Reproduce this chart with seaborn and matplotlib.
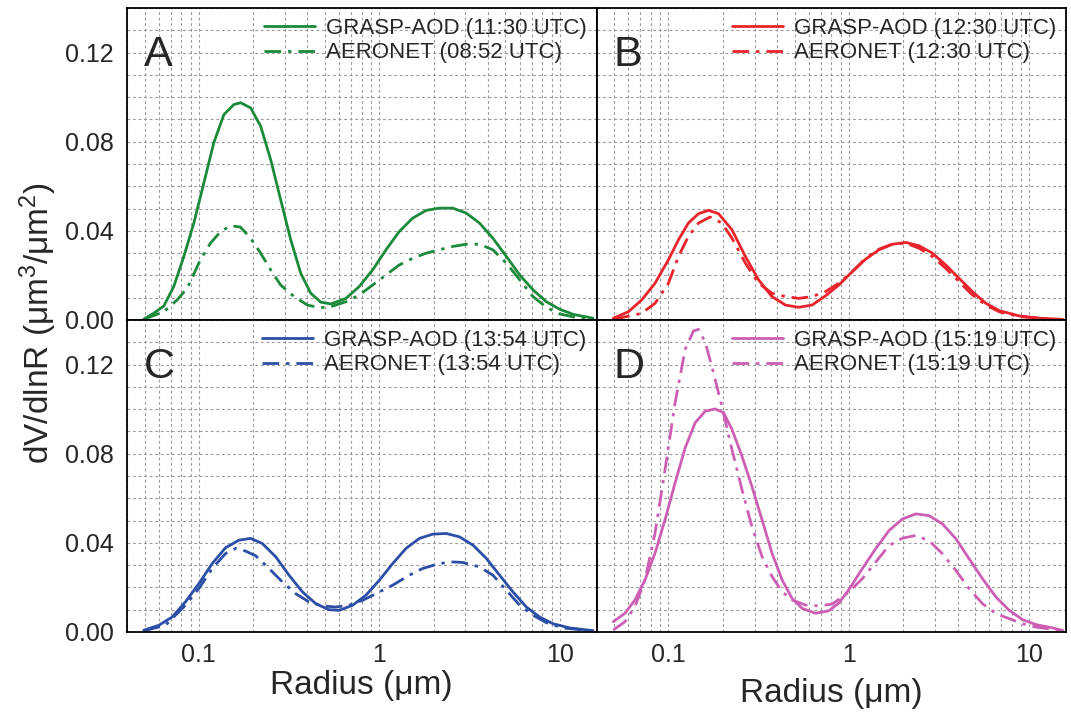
import matplotlib
matplotlib.use("Agg")
import matplotlib.pyplot as plt
import matplotlib.ticker as mticker
import seaborn as sns

# --- data (radius in um, dV/dlnR in um^3/um^2) ---
r_a_grasp = [0.0494, 0.0562, 0.064, 0.0726, 0.0826, 0.0938, 0.1066, 0.121, 0.1377, 0.1564,
             0.1703, 0.1936, 0.220, 0.250, 0.284, 0.323, 0.367, 0.417, 0.474, 0.54, 0.653,
             0.774, 0.919, 1.089, 1.29, 1.53, 1.82, 2.15, 2.55, 3.03, 3.59, 4.26, 5.06, 6.0,
             7.11, 8.43, 10.0, 11.9, 15.3]
v_a_grasp = [0.0003, 0.003, 0.0063, 0.015, 0.0285, 0.0435, 0.0615, 0.0795, 0.0922, 0.0967,
             0.0975, 0.0952, 0.087, 0.072, 0.054, 0.036, 0.021, 0.012, 0.0080, 0.0072, 0.0097,
             0.015, 0.0225, 0.0315, 0.0397, 0.0457, 0.0492, 0.0502, 0.0502, 0.048, 0.0435,
             0.0367, 0.0285, 0.0202, 0.0135, 0.0082, 0.0048, 0.0025, 0.0008]
r_a_aero = [0.0494, 0.064, 0.0758, 0.0861, 0.102, 0.116, 0.132, 0.150, 0.170, 0.1936, 0.220,
            0.250, 0.284, 0.337, 0.400, 0.47, 0.55, 0.653, 0.774, 0.919, 1.089, 1.29, 1.53,
            1.82, 2.15, 2.55, 3.03, 3.59, 4.26, 5.06, 6.0, 7.11, 8.43, 10.0, 12.9, 15.3]
v_a_aero = [0.0003, 0.0037, 0.009, 0.0142, 0.027, 0.0345, 0.0397, 0.0423, 0.0417, 0.0367, 0.030,
            0.0225, 0.0157, 0.0105, 0.0067, 0.0055, 0.0062, 0.0082, 0.0112, 0.0157, 0.0202,
            0.0247, 0.0277, 0.030, 0.0315, 0.033, 0.034, 0.034, 0.0315, 0.0255, 0.018, 0.0105,
            0.0057, 0.0027, 0.0008, 0.0003]

r_b_grasp = [0.0495, 0.06, 0.0711, 0.0843, 0.1, 0.1137, 0.129, 0.1468, 0.1668, 0.1896, 0.225,
             0.267, 0.316, 0.375, 0.445, 0.527, 0.625, 0.741, 0.88, 1.044, 1.238, 1.468, 1.74,
             2.07, 2.45, 2.9, 3.44, 4.08, 4.84, 5.74, 6.81, 8.8, 11.4, 15.3]
v_b_grasp = [0.0008, 0.0037, 0.009, 0.0165, 0.027, 0.036, 0.0435, 0.0477, 0.0492, 0.0477, 0.0405,
             0.0285, 0.018, 0.0105, 0.0067, 0.0057, 0.0067, 0.0108, 0.0157, 0.0217, 0.0273,
             0.0315, 0.034, 0.0348, 0.0333, 0.030, 0.0247, 0.0187, 0.0127, 0.0075, 0.0042,
             0.0018, 0.0008, 0.0003]
r_b_aero = [0.0495, 0.0711, 0.0843, 0.1, 0.1137, 0.129, 0.1468, 0.170, 0.1977, 0.225, 0.267,
            0.316, 0.375, 0.445, 0.527, 0.625, 0.741, 0.88, 1.044, 1.238, 1.468, 1.74, 2.07,
            2.45, 2.9, 3.44, 4.08, 4.84, 5.74, 6.81, 8.8, 15.3]
v_b_aero = [0.0003, 0.003, 0.0075, 0.0165, 0.0285, 0.0375, 0.0435, 0.0462, 0.0435, 0.0367,
            0.0255, 0.0165, 0.012, 0.0105, 0.0097, 0.0105, 0.0127, 0.0165, 0.0217, 0.0277,
            0.0318, 0.034, 0.0345, 0.0322, 0.0285, 0.0232, 0.0172, 0.0112, 0.0067, 0.0037,
            0.0015, 0.0001]

r_c_grasp = [0.0495, 0.06, 0.0711, 0.0843, 0.1, 0.1186, 0.1406, 0.1668, 0.1936, 0.225, 0.267,
             0.316, 0.375, 0.445, 0.527, 0.600, 0.711, 0.843, 1.0, 1.186, 1.406, 1.668, 1.98,
             2.35, 2.78, 3.30, 3.92, 4.64, 5.5, 6.53, 7.74, 9.18, 11.4, 15.3]
v_c_grasp = [0.0008, 0.003, 0.0067, 0.0135, 0.0217, 0.0307, 0.0378, 0.0412, 0.042, 0.0397,
             0.0337, 0.0255, 0.018, 0.0127, 0.010, 0.0097, 0.012, 0.0165, 0.0232, 0.0307, 0.0375,
             0.042, 0.0439, 0.0442, 0.0427, 0.039, 0.033, 0.0255, 0.018, 0.0112, 0.0067, 0.0037,
             0.0018, 0.0006]
r_c_aero = [0.0495, 0.0653, 0.0843, 0.1, 0.1186, 0.1406, 0.16, 0.1816, 0.2065, 0.245, 0.290,
            0.344, 0.408, 0.484, 0.574, 0.681, 0.808, 0.958, 1.186, 1.468, 1.74, 2.07, 2.45,
            2.9, 3.59, 4.26, 5.06, 6.0, 7.11, 8.43, 10.4, 15.3]
v_c_aero = [0.0005, 0.003, 0.012, 0.0195, 0.0285, 0.0352, 0.0375, 0.0363, 0.0342, 0.0285,
            0.0225, 0.0172, 0.0135, 0.0117, 0.0112, 0.012, 0.0142, 0.0172, 0.021, 0.0255, 0.0285,
            0.0303, 0.0315, 0.0312, 0.0292, 0.0255, 0.0187, 0.012, 0.0075, 0.0042, 0.0018,
            0.0005]

r_d_grasp = [0.0495, 0.0574, 0.0653, 0.0742, 0.0843, 0.0958, 0.1089, 0.1238, 0.1406, 0.160,
             0.1816, 0.2021, 0.225, 0.2556, 0.290, 0.330, 0.375, 0.4264, 0.484, 0.5507, 0.653,
             0.774, 0.88, 1.0, 1.186, 1.406, 1.668, 1.98, 2.35, 2.78, 3.30, 3.92, 4.64, 5.5,
             6.53, 7.74, 9.18, 10.9, 13.5, 15.3]
v_d_grasp = [0.0046, 0.0084, 0.0144, 0.0234, 0.0354, 0.0504, 0.0669, 0.0826, 0.0939, 0.0991,
             0.1001, 0.0984, 0.0909, 0.0789, 0.0654, 0.0504, 0.0354, 0.0234, 0.0151, 0.0106,
             0.0084, 0.0095, 0.013, 0.019, 0.0284, 0.0373, 0.0455, 0.0507, 0.053, 0.0522, 0.0485,
             0.0418, 0.0328, 0.0239, 0.0157, 0.0097, 0.0055, 0.0033, 0.0018, 0.0007]
r_d_aero = [0.0495, 0.0574, 0.0653, 0.0742, 0.0843, 0.0958, 0.1089, 0.1238, 0.1377, 0.1468,
            0.160, 0.1778, 0.1977, 0.225, 0.2556, 0.290, 0.330, 0.375, 0.4264, 0.484, 0.574,
            0.681, 0.808, 1.0, 1.186, 1.406, 1.668, 1.98, 2.35, 2.78, 3.30, 3.92, 4.64, 5.5,
            6.53, 7.74, 9.18, 10.9, 15.3]
v_d_aero = [0.0009, 0.0046, 0.0114, 0.0234, 0.0444, 0.0729, 0.1029, 0.1268, 0.1351, 0.1358,
            0.130, 0.1163, 0.1013, 0.0819, 0.0639, 0.0474, 0.0339, 0.0249, 0.0181, 0.0144,
            0.0121, 0.0117, 0.0125, 0.0179, 0.0239, 0.0313, 0.0388, 0.0421, 0.0433, 0.041,
            0.0351, 0.0276, 0.0194, 0.0127, 0.0082, 0.006, 0.0037, 0.0022, 0.0005]

panels = [
    ("A", "#1b8a3a", "11:30", "08:52", r_a_grasp, v_a_grasp, r_a_aero, v_a_aero),
    ("B", "#e8232b", "12:30", "12:30", r_b_grasp, v_b_grasp, r_b_aero, v_b_aero),
    ("C", "#2c4ea6", "13:54", "13:54", r_c_grasp, v_c_grasp, r_c_aero, v_c_aero),
    ("D", "#cc5fb4", "15:19", "15:19", r_d_grasp, v_d_grasp, r_d_aero, v_d_aero),
]

sns.set_style("white")
plt.rcParams['font.family'] = ['Liberation Sans', 'DejaVu Sans']
plt.rcParams['mathtext.fontset'] = 'custom'
plt.rcParams['mathtext.rm'] = 'Liberation Sans'
plt.rcParams['mathtext.it'] = 'Liberation Sans'

fig, axes = plt.subplots(2, 2, figsize=(10.71, 7.15), dpi=100, sharex=True, sharey=True)
fig.subplots_adjust(left=0.1186, right=0.9955, top=0.9888, bottom=0.1161, wspace=0, hspace=0)

for ax, (letter, color, t_grasp, t_aero, rg, vg, ra, va) in zip(axes.flat, panels):
    sns.lineplot(x=rg, y=vg, ax=ax, color=color, lw=2.0,
                 label=f"GRASP-AOD ({t_grasp} UTC)")
    sns.lineplot(x=ra, y=va, ax=ax, color=color, lw=2.0,
                 label=f"AERONET ({t_aero} UTC)")
    ax.lines[1].set_dashes((6, 2.5, 1.2, 2.5))

    ax.set_xscale("log")
    ax.set_xlim(0.04, 16)
    ax.set_ylim(0, 0.14)
    ax.xaxis.set_major_locator(mticker.FixedLocator([0.1, 1, 10]))
    ax.xaxis.set_major_formatter(mticker.FixedFormatter(["0.1", "1", "10"]))
    ax.xaxis.set_minor_locator(mticker.LogLocator(base=10, subs=range(2, 10)))
    ax.xaxis.set_minor_formatter(mticker.NullFormatter())
    ax.yaxis.set_major_locator(mticker.MultipleLocator(0.04))
    ax.yaxis.set_minor_locator(mticker.MultipleLocator(0.01))
    ax.yaxis.set_major_formatter(mticker.FormatStrFormatter("%.2f"))

    ax.grid(which="both", color="#9a9a9a", lw=0.8, linestyle=(0, (2.5, 2.5)))
    ax.tick_params(axis="x", which="major", direction="in", length=7, width=1.2,
                   labelsize=18, pad=8)
    ax.tick_params(axis="x", which="minor", direction="in", length=4, width=1)
    ax.tick_params(axis="y", which="major", direction="out", length=6, width=1.2, labelsize=18)
    ax.tick_params(axis="y", which="minor", direction="out", length=3, width=1)
    for s in ax.spines.values():
        s.set_color("black")
        s.set_linewidth(1.3)

    ax.text(0.035, 0.915, letter, transform=ax.transAxes, fontsize=31, va="top", ha="left")
    ax.legend(loc="upper right", frameon=False, fontsize=16, handlelength=2.3,
              labelspacing=0.15, borderaxespad=0.05, handletextpad=0.5)
    ax.set_xlabel("")
    ax.set_ylabel("")

for ax in axes[:, 1]:
    ax.tick_params(axis="y", which="both", left=False, labelleft=False)

axes[1, 0].set_xlabel("Radius (\u03bcm)", fontsize=24, labelpad=2)
axes[1, 1].set_xlabel("Radius (\u03bcm)", fontsize=24, labelpad=8)
fig.text(0.036, 0.548, "dV/dlnR (\u03bcm$^3$/\u03bcm$^2$)", rotation=90, fontsize=24,
         va="center", ha="center")

fig.savefig("out.png", dpi=100)
